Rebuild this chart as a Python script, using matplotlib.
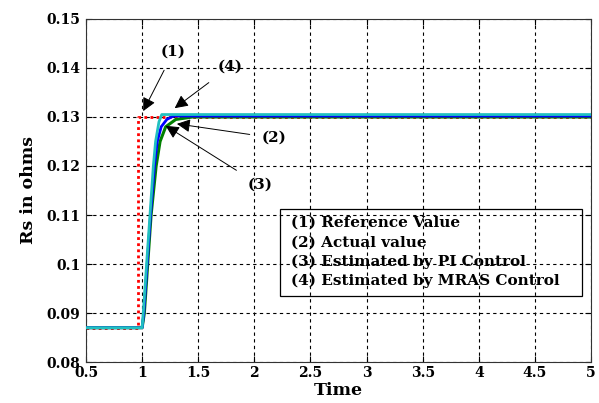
import matplotlib
matplotlib.use("Agg")
import matplotlib.pyplot as plt
from matplotlib.patches import Rectangle

# ---- data ----
t_ref = [0.5, 0.965, 0.965, 5.0]
v_ref = [0.087, 0.087, 0.130, 0.130]

t_act = [0.5, 1.0, 1.02, 1.05, 1.08, 1.125, 1.16, 1.21, 1.30, 1.45, 5.0]
v_act = [0.087, 0.087, 0.090, 0.100, 0.110, 0.120, 0.125, 0.128, 0.1295, 0.1300, 0.1300]

t_pi = [0.5, 1.0, 1.015, 1.045, 1.075, 1.11, 1.135, 1.17, 1.22, 1.28, 5.0]
v_pi = [0.087, 0.087, 0.090, 0.100, 0.110, 0.120, 0.125, 0.128, 0.1295, 0.1302, 0.1302]

t_mras = [0.5, 1.0, 1.01, 1.04, 1.07, 1.10, 1.12, 1.15, 1.175, 1.22, 5.0]
v_mras = [0.087, 0.087, 0.090, 0.100, 0.110, 0.120, 0.125, 0.129, 0.1305, 0.1305, 0.1305]

xticks = [0.5, 1, 1.5, 2, 2.5, 3, 3.5, 4, 4.5, 5]
xticklabels = ["0.5", "1", "1.5", "2", "2.5", "3", "3.5", "4", "4.5", "5"]
yticks = [0.08, 0.09, 0.10, 0.11, 0.12, 0.13, 0.14, 0.15]
yticklabels = ["0.08", "0.09", "0.1", "0.11", "0.12", "0.13", "0.14", "0.15"]

legend_lines = ["(1) Reference Value", "(2) Actual value",
                "(3) Estimated by PI Control", "(4) Estimated by MRAS Control"]

# annotations: label, text position, arrow tip
ann_labels = ["(1)", "(4)", "(2)", "(3)"]
ann_text = [(1.28, 0.1433), (1.78, 0.1402), (2.18, 0.1257), (2.05, 0.1161)]
ann_tip = [(1.01, 0.1312), (1.29, 0.1318), (1.31, 0.1286), (1.21, 0.1282)]

serif = ["DejaVu Serif"]

fig = plt.figure(figsize=(5.99, 4.03), dpi=100)
ax = fig.add_axes([0.1436, 0.1017, 0.843, 0.8512])

ax.plot(t_ref, v_ref, color="#ff0000", lw=2.0, ls=(0, (1, 1.2)), zorder=2)
ax.plot(t_act, v_act, color="#008000", lw=2.2, zorder=3)
ax.plot(t_pi, v_pi, color="#0000ff", lw=2.0, zorder=4)
ax.plot(t_mras, v_mras, color="#20c0c0", lw=2.0, zorder=5)

ax.set_xlim(0.5, 5)
ax.set_ylim(0.08, 0.15)
ax.set_xticks(xticks)
ax.set_xticklabels(xticklabels)
ax.set_yticks(yticks)
ax.set_yticklabels(yticklabels)

for lab in ax.get_xticklabels() + ax.get_yticklabels():
    lab.set_fontfamily(serif)
    lab.set_fontweight("bold")
    lab.set_fontsize(10)

ax.tick_params(direction="in", length=4, width=0.8, top=True, right=True)
ax.tick_params(axis="y", pad=4)
ax.tick_params(axis="x", pad=3)
ax.grid(True, color="black", ls=(0, (3, 3)), lw=0.8)
for s in ax.spines.values():
    s.set_linewidth(0.8)
    s.set_color("#333333")

ax.set_xlabel("Time", fontfamily=serif, fontweight="bold", fontsize=12.5, labelpad=1)
ax.set_ylabel("Rs in ohms", fontfamily=serif, fontweight="bold", fontsize=12.5, labelpad=7)

for lab, tp, tip in zip(ann_labels, ann_text, ann_tip):
    ax.annotate(lab, xy=tip, xytext=tp, ha="center", va="center",
                fontfamily=serif, fontweight="bold", fontsize=11,
                arrowprops=dict(arrowstyle="-|>", color="black", lw=0.7,
                                mutation_scale=20, shrinkA=7, shrinkB=0),
                zorder=6)

# legend-like text box (transparent)
ax.add_patch(Rectangle((0.384, 0.192), 0.598, 0.254, transform=ax.transAxes,
                       fill=False, edgecolor="black", lw=0.9, zorder=6))
for i, line in enumerate(legend_lines):
    ax.text(0.405, 0.405 - i * 0.056, line, transform=ax.transAxes,
            fontfamily=serif, fontweight="bold", fontsize=11,
            va="center", ha="left", zorder=7)

fig.savefig("out.png", dpi=100)
